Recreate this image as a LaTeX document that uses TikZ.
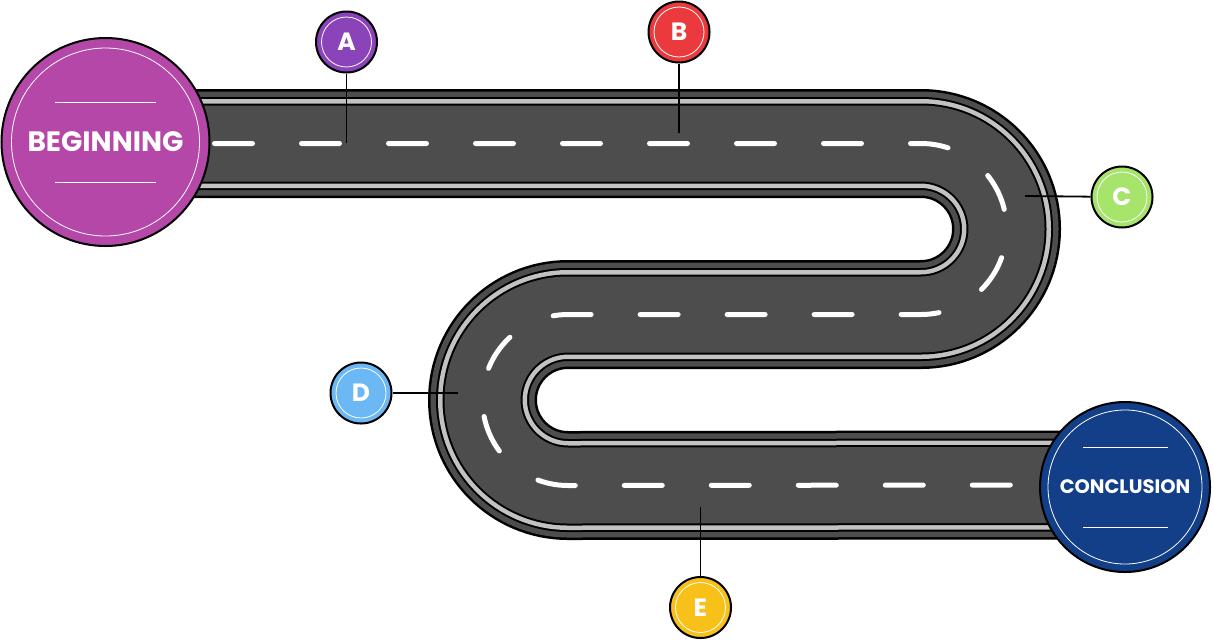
\documentclass[tikz,border=0pt]{standalone}
\usepackage{fontspec}
\setmainfont{Poppins}
\definecolor{asphalt}{HTML}{4D4D4D}
\definecolor{kerb}{HTML}{C2C2C2}
\definecolor{beginpurple}{HTML}{B447A8}
\definecolor{endblue}{HTML}{133F88}
\definecolor{markA}{HTML}{8A43B8}
\definecolor{markB}{HTML}{EB3A3E}
\definecolor{markC}{HTML}{A6E46C}
\definecolor{markD}{HTML}{6BB8F4}
\definecolor{markE}{HTML}{F8C11A}
\begin{document}
\begin{tikzpicture}[x=1pt, y=-1pt]
    % Define styles
    \tikzset{
        endpoint/.style={circle, draw=black, line width=2pt, inner sep=0pt, text=white, font=\bfseries},
        marker/.style={circle, draw=black, line width=2pt, minimum size=61pt, inner sep=0pt, text=white, font=\bfseries\fontsize{25}{25}\selectfont},
        leader/.style={draw=black, line width=1.8pt},
        ringline/.style={draw=white, line width=0.8pt},
        lanemark/.style={draw=white, line width=5pt, line cap=round, dash pattern=on 38pt off 49pt}
    }

    \useasboundingbox (0,0) rectangle (1214,641);

    % Road: outer edge, shoulder, kerb and asphalt stacked on one centre line
    \foreach \w/\c in {109/black, 104/asphalt, 93/black, 89/kerb, 80/black, 76/asphalt} {
        \draw[line width=\w pt, draw=\c] (150,143.5) -- (921,143.5)
            arc[start angle=-90, end angle=90, radius=85.5] -- (568,314.5)
            arc[start angle=270, end angle=90, radius=85.5] -- (1080,485);
    }

    % Lane marking
    \draw[lanemark] (214.5,143.5) -- (921,143.5)
        arc[start angle=-90, end angle=90, radius=85.5] -- (568,314.5)
        arc[start angle=270, end angle=90, radius=85.5] -- (1030,485);

    % Points on the road
    \coordinate (a_end) at (346.5,143);
    \coordinate (b_end) at (679,133);
    \coordinate (c_end) at (1025,196);
    \coordinate (d_end) at (458,393);
    \coordinate (e_end) at (700.5,507);

    % Start and finish
    \node[endpoint, fill=beginpurple, minimum size=208pt, font=\bfseries\fontsize{28}{28}\selectfont] (begin) at (105.5,142) {BEGINNING};
    \draw[ringline] (begin.center) circle[radius=94];
    \draw[ringline] (55,102) -- (156,102);
    \draw[ringline] (55,182) -- (156,182);

    \node[endpoint, fill=endblue, minimum size=170pt, font=\bfseries\fontsize{19.5}{19.5}\selectfont] (concl) at (1125,487) {CONCLUSION};
    \draw[ringline] (concl.center) circle[radius=77];
    \draw[ringline] (1083,447) -- (1168,447);
    \draw[ringline] (1083,527) -- (1168,527);

    % Markers
    \node[marker, fill=markA] (mark_a) at (346.5,42) {A};
    \node[marker, fill=markB] (mark_b) at (679,32) {B};
    \node[marker, fill=markC] (mark_c) at (1122,197) {C};
    \node[marker, fill=markD] (mark_d) at (361,393) {D};
    \node[marker, fill=markE] (mark_e) at (700.5,607.5) {E};
    \foreach \m in {a,b,c,d,e} {
        \draw[ringline] (mark_\m.center) circle[radius=25];
    }

    % Connecting lines
    \draw[leader] (mark_a) -- (a_end);
    \draw[leader] (mark_b) -- (b_end);
    \draw[leader] (mark_c) -- (c_end);
    \draw[leader] (mark_d) -- (d_end);
    \draw[leader] (mark_e) -- (e_end);

\end{tikzpicture}
\end{document}
